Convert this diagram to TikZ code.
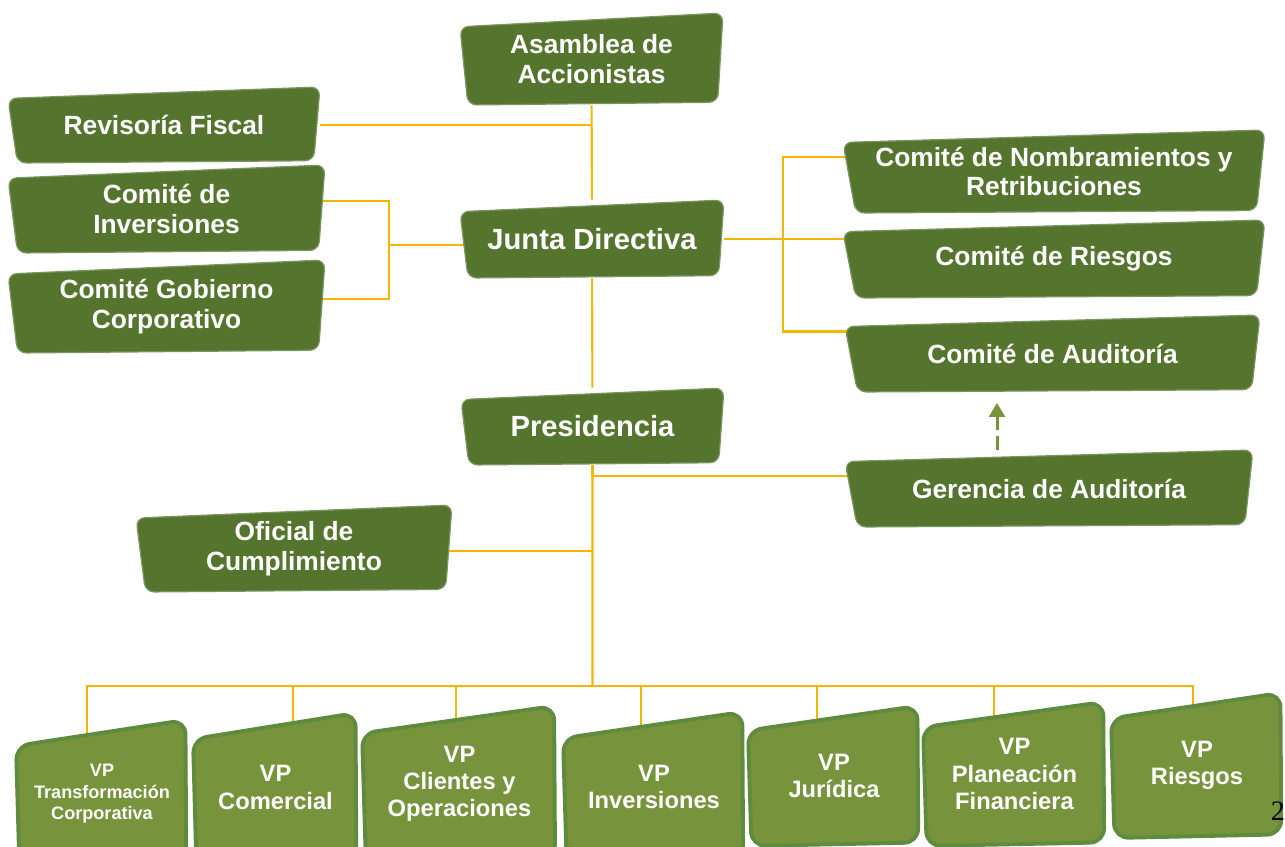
\documentclass[tikz,border=0pt]{standalone}
\usepackage{fontspec}
\setmainfont{Liberation Sans}
\newfontfamily\pagefont{Liberation Serif}
\usetikzlibrary{backgrounds,arrows.meta}

\definecolor{boardgreen}{HTML}{55752F}
\definecolor{boardedge}{HTML}{7A9560}
\definecolor{vpgreen}{HTML}{77933C}
\definecolor{vpedge}{HTML}{5F8B3E}
\definecolor{linkgold}{HTML}{F2B705}

\tikzset{
  link/.style={draw=linkgold, line width=1.2pt},
  boardbox/.style={fill=boardgreen, draw=boardedge, line width=0.7pt, rounded corners=5pt},
  vpbox/.style={fill=vpgreen, draw=vpedge, line width=2.2pt, rounded corners=8pt},
  orgtext/.style={text=white, font=\bfseries\fontsize{15}{17}\selectfont, align=center, inner sep=0pt},
  vptext/.style={orgtext, font=\bfseries\fontsize{13.5}{15.5}\selectfont},
  auditlink/.style={draw=vpgreen, line width=1.7pt, dash pattern=on 7.5pt off 3.5pt,
    -{Triangle[width=9pt,length=8pt]}, shorten >=6pt},
}

\newcommand{\orgunit}[7][]{%
  \path[boardbox, shift={(#3,#4)}, xscale=#5/2, yscale=#6/2]
    (-1,-0.7) -- (1,-1) -- (0.96,0.94) -- (-0.94,1) -- cycle;
  \node[orgtext, #1, minimum width=#5*0.02cm, minimum height=#6*0.02cm] (#2) at (#3,#4) {#7};
}
\newcommand{\vpunit}[7][]{%
  \path[vpbox, shift={(#3,#4)}, xscale=#5/2, yscale=#6/2]
    (-1,-0.65) -- (0.97,-1) -- (0.98,0.95) -- (-0.96,1) -- cycle;
  \node[vptext, #1, minimum width=#5*0.02cm, minimum height=#6*0.02cm] (#2) at (#3,#4) {#7};
}

\begin{document}
\begin{tikzpicture}[x=0.02cm, y=-0.02cm]
  \useasboundingbox (0,0) rectangle (1285,847);

  \orgunit{asamblea}{591.5}{59}{263}{92}{Asamblea de\\Accionistas}
  \orgunit{revisoria}{164}{125}{312}{76}{Revisoría Fiscal}
  \orgunit{inversiones}{166.5}{209}{317}{88}{Comité de\\Inversiones}
  \orgunit{gobierno}{166.5}{306.5}{317}{93}{Comité Gobierno\\Corporativo}
  \orgunit[font=\bfseries\fontsize{16.6}{19}\selectfont]{junta}{592}{239}{264}{78}{Junta Directiva}
  \orgunit[font=\bfseries\fontsize{16.6}{19}\selectfont]{presidencia}{592.5}{426.5}{263}{77}{Presidencia}
  \orgunit{nombramientos}{1054}{171.5}{422}{83}{Comité de Nombramientos y\\Retribuciones}
  \orgunit{riesgos}{1054}{259}{422}{78}{Comité de Riesgos}
  \orgunit{auditoria}{1052.5}{353.5}{415}{77}{Comité de Auditoría}
  \orgunit{gerencia}{1049}{488.5}{408}{77}{Gerencia de Auditoría}
  \orgunit{oficial}{294}{548.5}{316}{87}{Oficial de\\Cumplimiento}

  \vpunit[font=\bfseries\fontsize{10.3}{12.3}\selectfont]{vptransf}{102}{794}{172}{148}{VP\\Transformación\\Corporativa}
  \vpunit{vpcom}{275.5}{787.5}{165}{149}{VP\\Comercial}
  \vpunit{vpcli}{459.5}{784}{195}{156}{VP\\Clientes y\\Operaciones}
  \vpunit{vpinv}{654}{787}{182}{150}{VP\\Inversiones}
  \vpunit{vpjur}{834}{776}{172}{140}{VP\\Jurídica}
  \vpunit{vpplan}{1014.5}{774}{183}{144}{VP\\Planeación\\Financiera}
  \vpunit{vpries}{1197}{765.5}{172}{145}{VP\\Riesgos}

  \coordinate (lbus) at (389,245);
  \coordinate (rbus) at (783,239);
  \coordinate (bus) at (592.5,686);

  \begin{scope}[on background layer]
    \draw[link] (asamblea) -- (junta) -- (presidencia) -- (bus);
    \draw[link] (revisoria) -- (revisoria -| asamblea);
    \draw[link] ([yshift=4.5pt]inversiones.center) -| (lbus) |- ([yshift=4.5pt]gobierno.center);
    \draw[link] (lbus) -- (lbus -| junta);
    \draw[link] (junta) -- (rbus) -- (rbus -| riesgos);
    \draw[link] ([yshift=8pt]nombramientos.center) -| (rbus) |- ([yshift=12.5pt]auditoria.center);
    \draw[link] (presidencia) |- ([yshift=7pt]gerencia.center);
    \draw[link] ([yshift=-1.5pt]oficial.center) -- ([yshift=-1.5pt]oficial -| presidencia);
    \foreach \n/\dx in {vptransf/-15, vpcom/17.5, vpcli/-3.5, vpinv/-13, vpjur/-17, vpplan/-20.5, vpries/-4}
      \draw[link] ([xshift=\dx*0.02cm]\n.center) |- (bus);
  \end{scope}

  \draw[auditlink] ([xshift=-52*0.02cm]gerencia.north) -- ([xshift=-55.5*0.02cm]auditoria.south);

  \node[font=\pagefont\fontsize{16}{16}\selectfont, inner sep=0pt] (pagenum) at (1278,811) {2};
\end{tikzpicture}
\end{document}
